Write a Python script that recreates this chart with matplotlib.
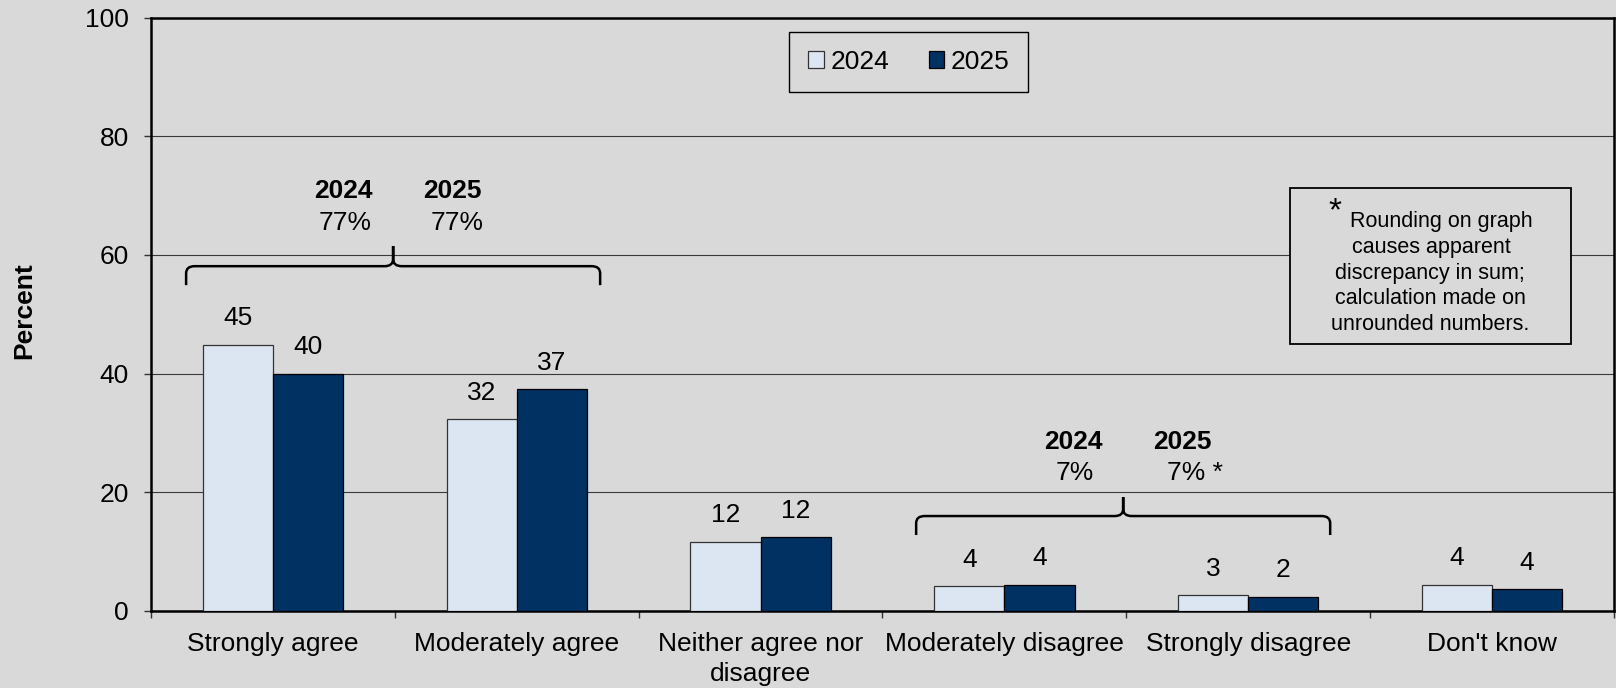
import matplotlib
matplotlib.use("Agg")
import matplotlib.pyplot as plt
from matplotlib.path import Path
from matplotlib.patches import PathPatch, Rectangle
from matplotlib.ticker import FixedLocator, NullFormatter
import numpy as np

plt.rcParams['font.family'] = ['Liberation Sans', 'DejaVu Sans']

categories = ["Strongly agree", "Moderately agree", "Neither agree nor\ndisagree",
              "Moderately disagree", "Strongly disagree", "Don't know"]
series_names = ["2024", "2025"]
values_2024 = [44.9, 32.3, 11.7, 4.2, 2.7, 4.4]
values_2025 = [40.0, 37.4, 12.4, 4.4, 2.4, 3.7]
labels_2024 = ["45", "32", "12", "4", "3", "4"]
labels_2025 = ["40", "37", "12", "4", "2", "4"]
y_ticks = [0, 20, 40, 60, 80, 100]
agree_totals = ["77%", "77%"]
disagree_totals = ["7%", "7% *"]
note_lines = ["Rounding on graph", "causes apparent", "discrepancy in sum;",
              "calculation made on", "unrounded numbers."]

BG = "#D9D9D9"
C24 = "#DCE6F2"
C25 = "#003162"
FS = 19

W, H = 1616, 688
fig = plt.figure(figsize=(W / 100, H / 100), dpi=100, facecolor=BG)
ax_l, ax_r, ax_t, ax_b = 151, 1614, 17.5, 611
ax = fig.add_axes([ax_l / W, (H - ax_b) / H, (ax_r - ax_l) / W, (ax_b - ax_t) / H])
ax.set_facecolor(BG)

x = np.arange(len(categories))
bw = 0.2875
b1 = ax.bar(x - bw / 2, values_2024, bw, color=C24, edgecolor="#333333", linewidth=0.9,
            label=series_names[0], zorder=3)
b2 = ax.bar(x + bw / 2, values_2025, bw, color=C25, edgecolor="#000000", linewidth=0.9,
            label=series_names[1], zorder=3)

for bars, labs in ((b1, labels_2024), (b2, labels_2025)):
    for rect, lab in zip(bars, labs):
        ax.annotate(lab, (rect.get_x() + rect.get_width() / 2, rect.get_height()),
                    xytext=(0, 19), textcoords="offset points", ha="center", va="center",
                    fontsize=FS, color="black", zorder=4)

ax.set_xlim(-0.5, len(categories) - 0.5)
ax.set_ylim(0, 100)
ax.set_yticks(y_ticks)
ax.set_yticklabels([str(t) for t in y_ticks], fontsize=FS)
ax.yaxis.grid(True, color="#3a3a3a", linewidth=0.8, zorder=0)
ax.set_axisbelow(True)

ax.xaxis.set_major_locator(FixedLocator(np.arange(-0.5, len(categories), 1.0)))
ax.xaxis.set_major_formatter(NullFormatter())
ax.xaxis.set_minor_locator(FixedLocator(x))
ax.set_xticklabels(categories, minor=True, fontsize=FS, linespacing=1.3)
ax.tick_params(axis="x", which="major", length=5, width=1, color="#333333", direction="out")
ax.tick_params(axis="x", which="minor", length=0, pad=15)
ax.tick_params(axis="y", length=5, width=1, color="#333333", pad=11)

for s in ax.spines.values():
    s.set_linewidth(1.8)
    s.set_color("black")

fig.text(24 / W, (H - 311) / H, "Percent", rotation=90, ha="center", va="center",
         fontsize=FS, fontweight="bold")

leg = ax.legend(loc="center", bbox_to_anchor=(0.518, 0.925), ncol=2, fontsize=FS,
                frameon=True, fancybox=False, edgecolor="black", facecolor=BG,
                handlelength=0.6, handleheight=0.6, handletextpad=0.25,
                columnspacing=1.5, borderpad=0.7)
leg.get_frame().set_linewidth(1.0)
leg.get_frame().set_alpha(None)


def brace(x0, x1, xm, y, ydown, ytip, rx=0.035, ry=1.2):
    verts = [(x0, ydown), (x0, y - ry), (x0, y), (x0 + rx, y),
             (xm - rx, y), (xm, y), (xm, y + ry), (xm, ytip),
             (xm, y + ry), (xm, y), (xm + rx, y),
             (x1 - rx, y), (x1, y), (x1, y - ry), (x1, ydown)]
    codes = [Path.MOVETO, Path.LINETO, Path.CURVE3, Path.CURVE3,
             Path.LINETO, Path.CURVE3, Path.CURVE3, Path.LINETO,
             Path.LINETO, Path.CURVE3, Path.CURVE3,
             Path.LINETO, Path.CURVE3, Path.CURVE3, Path.LINETO]
    ax.add_patch(PathPatch(Path(verts, codes), fill=False, lw=1.8, edgecolor="black",
                           zorder=5, capstyle="butt", joinstyle="miter"))


brace(-0.356, 1.342, 0.493, 58.1, 54.9, 61.5)
brace(2.638, 4.336, 3.487, 16.0, 12.8, 19.2)

# group totals
ax.text(0.2875, 70.8, series_names[0], ha="center", va="center", fontsize=FS, fontweight="bold")
ax.text(0.2960, 65.4, agree_totals[0], ha="center", va="center", fontsize=FS)
ax.text(0.7346, 70.8, series_names[1], ha="center", va="center", fontsize=FS, fontweight="bold")
ax.text(0.7550, 65.4, agree_totals[1], ha="center", va="center", fontsize=FS)

ax.text(3.282, 28.5, series_names[0], ha="center", va="center", fontsize=FS, fontweight="bold")
ax.text(3.290, 23.25, disagree_totals[0], ha="center", va="center", fontsize=FS)
ax.text(3.729, 28.5, series_names[1], ha="center", va="center", fontsize=FS, fontweight="bold")
ax.text(3.782, 23.25, disagree_totals[1], ha="center", va="center", fontsize=FS)


# note box
def axx(px):
    return (px - ax_l) / (ax_r - ax_l)


def axy(py):
    return (ax_b - py) / (ax_b - ax_t)


ax.add_patch(Rectangle((axx(1290), axy(344)), axx(1571) - axx(1290), axy(188) - axy(344),
                       transform=ax.transAxes, facecolor=BG, edgecolor="black", lw=1.3, zorder=6))
ax.text(axx(1335), axy(212), "*", transform=ax.transAxes, ha="center", va="center",
        fontsize=24, zorder=7)
note_x = [1441, 1431, 1430, 1430, 1430]
note_y = [221, 248, 274, 299, 324]
for lx, ly, line in zip(note_x, note_y, note_lines):
    ax.text(axx(lx), axy(ly), line, transform=ax.transAxes, ha="center", va="center",
            fontsize=15.5, zorder=7)

fig.savefig("out.png", dpi=100, facecolor=BG)
